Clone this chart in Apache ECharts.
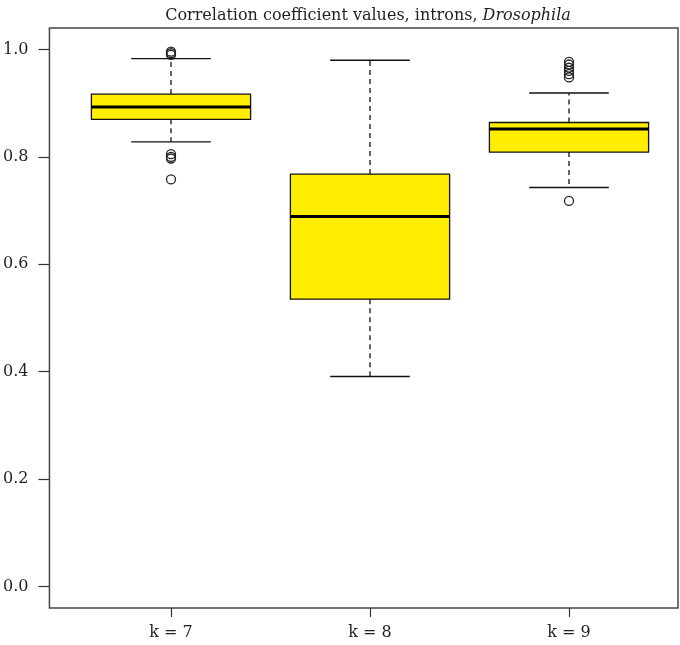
<!DOCTYPE html>
<html>
<head>
<meta charset="utf-8">
<script src="https://cdn.jsdelivr.net/npm/echarts@6/dist/echarts.min.js"></script>
<style>
  html, body { margin: 0; padding: 0; background: #fff; }
  #chart { width: 680px; height: 645px; }
</style>
</head>
<body>
<div id="chart"></div>
<script>
// ---- data ----
var categories = ['k = 7', 'k = 8', 'k = 9'];
var whiskerLow  = [0.828, 0.391, 0.743];
var quartile1   = [0.870, 0.535, 0.809];
var medians     = [0.893, 0.689, 0.852];
var quartile3   = [0.917, 0.768, 0.864];
var whiskerHigh = [0.983, 0.980, 0.919];
var outliersK7 = [0.996, 0.993, 0.990, 0.805, 0.800, 0.797, 0.758];
var outliersK8 = [];
var outliersK9 = [0.977, 0.972, 0.966, 0.960, 0.954, 0.948, 0.718];
var yTicks = [0.0, 0.2, 0.4, 0.6, 0.8, 1.0];

var boxData = categories.map(function (c, i) {
  return [i, whiskerLow[i], quartile1[i], medians[i], quartile3[i], whiskerHigh[i]];
});
var outlierData = [];
[outliersK7, outliersK8, outliersK9].forEach(function (arr, i) {
  arr.forEach(function (v) { outlierData.push([i, v]); });
});

var FONT = '"DejaVu Serif", "Liberation Serif", serif';
var FILL = '#ffee00';
var TXT = '#231f20';

function renderBox(params, api) {
  var idx = api.value(0);
  var lo = api.coord([idx, api.value(1)]);
  var p1 = api.coord([idx, api.value(2)]);
  var pm = api.coord([idx, api.value(3)]);
  var p3 = api.coord([idx, api.value(4)]);
  var hi = api.coord([idx, api.value(5)]);
  var band = api.size([1, 0])[0];
  var half = band * 0.8 / 2;
  var cap = half / 2;
  var cx = lo[0];
  var dashStyle = { stroke: '#111', lineWidth: 1.3, lineDash: [5, 4] };
  var solid = { stroke: '#111', lineWidth: 1.4 };
  return {
    type: 'group',
    children: [
      { type: 'line', shape: { x1: cx, y1: p3[1], x2: cx, y2: hi[1] }, style: dashStyle },
      { type: 'line', shape: { x1: cx, y1: p1[1], x2: cx, y2: lo[1] }, style: dashStyle },
      { type: 'line', shape: { x1: cx - cap, y1: hi[1], x2: cx + cap, y2: hi[1] }, style: solid },
      { type: 'line', shape: { x1: cx - cap, y1: lo[1], x2: cx + cap, y2: lo[1] }, style: solid },
      { type: 'rect', shape: { x: cx - half, y: p3[1], width: half * 2, height: p1[1] - p3[1] },
        style: { fill: FILL, stroke: '#111', lineWidth: 1.3 } },
      { type: 'line', shape: { x1: cx - half, y1: pm[1], x2: cx + half, y2: pm[1] },
        style: { stroke: '#000', lineWidth: 3 } }
    ]
  };
}

var chart = echarts.init(document.getElementById('chart'), null, { renderer: 'canvas' });
var option = {
  backgroundColor: '#fff',
  animation: false,
  title: {
    text: 'Correlation coefficient values, introns, {i|Drosophila}',
    left: 363,
    top: 3,
    textAlign: 'center',
    textStyle: {
      fontFamily: FONT, fontSize: 16, fontWeight: 'normal', color: TXT,
      rich: { i: { fontFamily: FONT, fontSize: 16, fontStyle: 'italic', color: TXT } }
    }
  },
  grid: [
    { left: 48, right: 2, top: 28, bottom: 37, show: true, borderColor: '#444', borderWidth: 1.5, backgroundColor: 'transparent' },
    { left: 71.5, right: 11.5, top: 28, bottom: 37 }
  ],
  xAxis: [
    { gridIndex: 0, type: 'value', min: 0, max: 1, show: false },
    { gridIndex: 1, type: 'category', data: categories, boundaryGap: true,
      axisLine: { show: false, onZero: false },
      axisTick: { show: true, alignWithLabel: true, length: 9, lineStyle: { color: '#333', width: 1.2 } },
      axisLabel: { fontFamily: FONT, fontSize: 16, color: TXT, margin: 17 },
      splitLine: { show: false } }
  ],
  yAxis: [
    { gridIndex: 0, type: 'value', min: -0.04, max: 1.04,
      axisLine: { show: false },
      axisTick: { show: true, length: 11, customValues: yTicks, lineStyle: { color: '#333', width: 1.2 } },
      axisLabel: { fontFamily: FONT, fontSize: 16, color: TXT, margin: 21, customValues: yTicks,
        formatter: function (v) { return v.toFixed(1); } },
      splitLine: { show: false } },
    { gridIndex: 1, type: 'value', min: -0.04, max: 1.04, show: false, splitLine: { show: false } }
  ],
  series: [
    { type: 'custom', xAxisIndex: 1, yAxisIndex: 1, data: boxData, renderItem: renderBox,
      encode: { x: 0, y: [1, 2, 3, 4, 5] }, silent: true },
    { type: 'scatter', xAxisIndex: 1, yAxisIndex: 1, data: outlierData, symbol: 'circle', symbolSize: 9,
      itemStyle: { color: 'rgba(0,0,0,0)', borderColor: '#222', borderWidth: 1.3, opacity: 1 }, silent: true }
  ]
};
chart.setOption(option);
</script>
</body>
</html>
